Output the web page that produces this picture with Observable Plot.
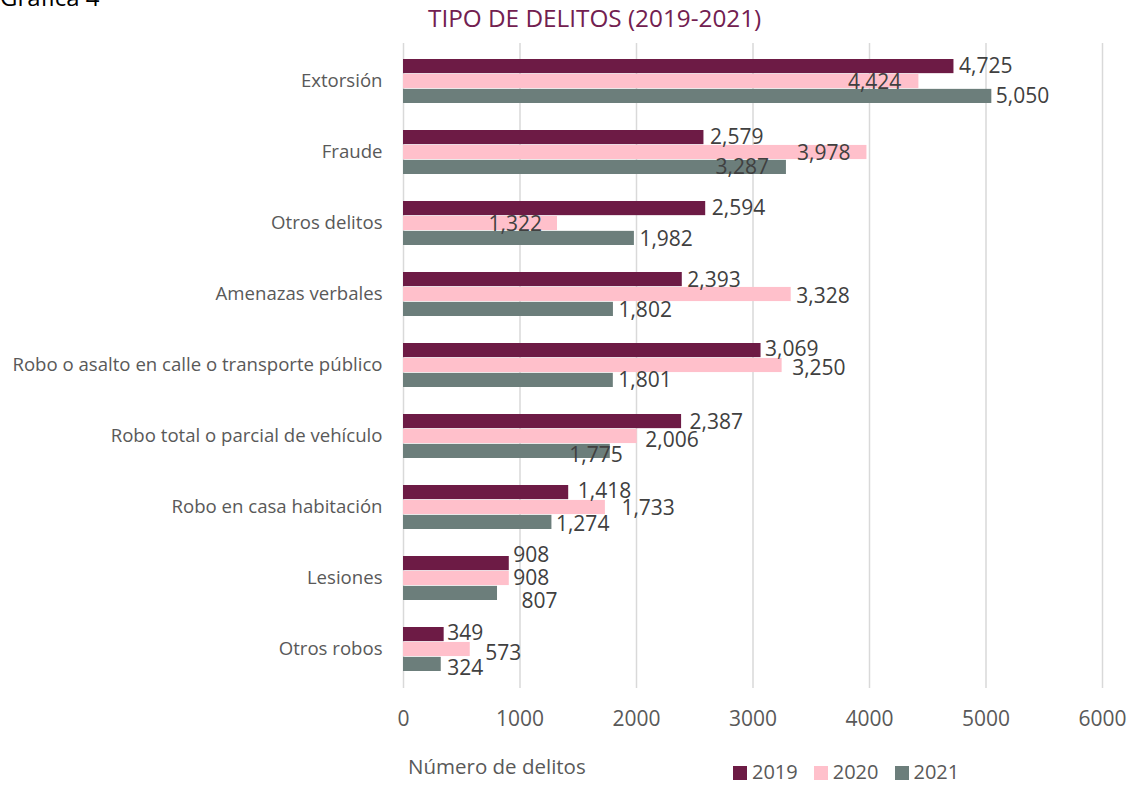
<!DOCTYPE html>
<html>
<head>
<meta charset="utf-8">
<script src="https://cdn.jsdelivr.net/npm/d3@7"></script>
<script src="https://cdn.jsdelivr.net/npm/@observablehq/plot@0.6"></script>
<style>
  body { margin: 0; background: #fff; font-family: "Open Sans", sans-serif; overflow: hidden; }
  #wrap { position: relative; width: 1133px; height: 786px; overflow: hidden; }
  .abs { position: absolute; white-space: nowrap; }
  #chart { position: absolute; left: 0; top: 40px; }
  .sw { display: inline-block; width: 14px; height: 14px; vertical-align: -1px; margin-right: 5px; }
  .lg { display: inline-block; margin-right: 16px; color: #595959; font-size: 20px; line-height: 24px; }
</style>
</head>
<body>
<div id="wrap">
  <div class="abs" style="left:0; top:-15px; font-size:24px; line-height:24px; color:#000;">Gráfica 4</div>
  <div class="abs" id="title" style="left:428px; top:2px; font-size:24.3px; line-height:32px; color:#722050;">TIPO DE DELITOS (2019-2021)</div>
  <div class="abs" id="chart"></div>
  <div class="abs" style="left:408px; top:753px; font-size:20.5px; line-height:26px; color:#595959;">Número de delitos</div>
  <div class="abs" id="legend" style="left:733px; top:760px; height:24px;"></div>
</div>
<script>
const categories = [
  "Extorsión",
  "Fraude",
  "Otros delitos",
  "Amenazas verbales",
  "Robo o asalto en calle o transporte público",
  "Robo total o parcial de vehículo",
  "Robo en casa habitación",
  "Lesiones",
  "Otros robos"
];
const years = ["2019", "2020", "2021"];
const values2019 = [4725, 2579, 2594, 2393, 3069, 2387, 1418, 908, 349];
const values2020 = [4424, 3978, 1322, 3328, 3250, 2006, 1733, 908, 573];
const values2021 = [5050, 3287, 1982, 1802, 1801, 1775, 1274, 807, 324];
const xTicks = [0, 1000, 2000, 3000, 4000, 5000, 6000];

const colors = {"2019": "#6D1B45", "2020": "#FFC0CB", "2021": "#6C7E7B"};

// label placement nudges (pixels) [dx, dy] per category, per year (mimics the original label layout)
const labelNudge = [
  [[5,0],[-71,1],[4,0]],
  [[6,0],[-70,1],[-71,0]],
  [[6,0],[-69,1],[5,1]],
  [[5,1],[5,2],[5,1]],
  [[4,-1],[10,3],[5,0]],
  [[8,1],[8,4],[-41,4]],
  [[9,-1],[16,1],[4,2]],
  [[4,-8],[4,0],[24,8]],
  [[3,-1],[15,4],[6,4]]
];

const seriesValues = [values2019, values2020, values2021];
const rows = [];
categories.forEach((c, i) => years.forEach((y, j) => rows.push({category: c, year: y, value: seriesValues[j][i], i, j})));

const marginTop = 3, marginBottom = 52, plotH = 645;
const height = marginTop + plotH + marginBottom;
const pInner = 0.375, pOuter = 0.1875;
const step = plotH / (categories.length - pInner + 2 * pOuter);
const bw = step * (1 - pInner);
const third = bw / 3;

const fmt = d3.format(",");

const barMarks = years.map((yr, j) => Plot.barX(rows.filter(d => d.year === yr), {
  x: "value", y: "category", fill: colors[yr],
  insetTop: j * third, insetBottom: (2 - j) * third
}));

const textMarks = rows.map(d => Plot.text([d], {
  x: "value", y: "category", text: r => fmt(r.value),
  textAnchor: "start",
  dx: labelNudge[d.i][d.j][0],
  dy: (d.j - 1) * third + labelNudge[d.i][d.j][1],
  fill: "#404040", fontSize: 21
}));

const chart = Plot.plot({
  width: 1133,
  height,
  marginLeft: 403,
  marginRight: 31,
  marginTop,
  marginBottom,
  style: {fontFamily: "Open Sans, sans-serif", background: "transparent", overflow: "visible"},
  x: {domain: [0, 6000], ticks: xTicks},
  y: {domain: categories, paddingInner: pInner, paddingOuter: pOuter},
  marks: [
    Plot.gridX(xTicks, {stroke: "#d9d9d9", strokeOpacity: 1, strokeWidth: 1.5}),
    ...barMarks,
    ...textMarks,
    Plot.axisX({ticks: xTicks, tickSize: 0, tickPadding: 23, tickFormat: d => String(d), fontSize: 21, color: "#595959", label: null}),
    Plot.axisY({tickSize: 0, tickPadding: 21, fontSize: 18.6, color: "#595959", label: null})
  ]
});
document.getElementById("chart").appendChild(chart);

const legend = document.getElementById("legend");
years.forEach(y => {
  const s = document.createElement("span");
  s.className = "lg";
  s.innerHTML = `<span class="sw" style="background:${colors[y]}"></span>${y}`;
  legend.appendChild(s);
});
</script>
</body>
</html>
